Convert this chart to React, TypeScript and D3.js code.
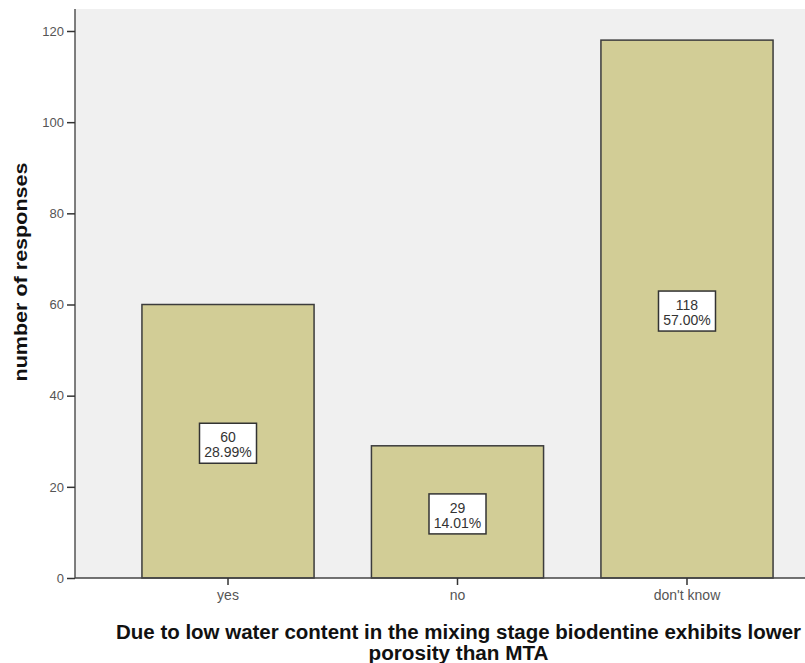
import { useEffect, useRef } from "react";
import * as d3 from "d3";

const categories = ["yes", "no", "don't know"];
const counts = [60, 29, 118];
const percents = ["28.99%", "14.01%", "57.00%"];
const yTicks = [0, 20, 40, 60, 80, 100, 120];
const yTitle = "number of responses";
const xTitle = [
  "Due to low water content in the mixing stage biodentine exhibits lower",
  "porosity than MTA",
];

const W = 805;
const H = 663;
const FONT = "Arial, 'Liberation Sans', sans-serif";

function draw(svgEl: SVGSVGElement) {
  const svg = d3.select(svgEl);
  svg.selectAll("*").remove();

  const left = 75;
  const right = 840;
  const top = 9;
  const bottom = 578;

  const x = d3
    .scaleBand()
    .domain(categories)
    .range([left, right])
    .paddingInner(0.25)
    .paddingOuter(0.2917);

  const y = d3.scaleLinear().domain([0, 120]).range([bottom, 31]);

  // plot background
  svg
    .append("rect")
    .attr("x", left)
    .attr("y", top)
    .attr("width", W - left)
    .attr("height", bottom - top)
    .attr("fill", "#f0f0f0");

  // bars
  svg
    .selectAll("rect.bar")
    .data(counts)
    .join("rect")
    .attr("class", "bar")
    .attr("x", (d, i) => x(categories[i]))
    .attr("y", (d) => y(d))
    .attr("width", x.bandwidth())
    .attr("height", (d) => bottom - y(d))
    .attr("fill", "#d2cd96")
    .attr("stroke", "#3c3c3c")
    .attr("stroke-width", 1.5);

  // labels in boxes
  const lab = svg
    .selectAll("g.lab")
    .data(counts)
    .join("g")
    .attr("class", "lab")
    .attr(
      "transform",
      (d, i) =>
        `translate(${x(categories[i]) + x.bandwidth() / 2},${(y(d) + bottom) / 2 + 2})`,
    );

  lab
    .append("rect")
    .attr("x", -28.5)
    .attr("y", -20)
    .attr("width", 57)
    .attr("height", 40)
    .attr("fill", "#fff")
    .attr("stroke", "#333")
    .attr("stroke-width", 1.5);

  lab
    .append("text")
    .attr("text-anchor", "middle")
    .attr("font-family", FONT)
    .attr("font-size", 14)
    .attr("fill", "#333")
    .selectAll("tspan")
    .data((d, i) => [String(d), percents[i]])
    .join("tspan")
    .attr("x", 0)
    .attr("y", (d, i) => (i === 0 ? -1 : 14))
    .text((d) => d);

  // y axis
  const yAxis = svg
    .append("g")
    .attr("transform", `translate(${left},0)`)
    .call(d3.axisLeft(y).tickValues(yTicks).tickSize(8).tickPadding(3));
  yAxis.select(".domain").attr("d", `M0,${top}V${bottom}`).attr("stroke", "#555").attr("stroke-width", 1.5);
  yAxis.selectAll(".tick line").attr("stroke", "#333").attr("stroke-width", 1.5);
  yAxis
    .selectAll(".tick text")
    .attr("font-family", FONT)
    .attr("font-size", 13)
    .attr("fill", "#555");

  // x axis
  const xAxis = svg
    .append("g")
    .attr("transform", `translate(0,${bottom})`)
    .call(d3.axisBottom(x).tickSize(7).tickPadding(5));
  xAxis.select(".domain").attr("d", `M${left},0H${W}`).attr("stroke", "#444").attr("stroke-width", 1.5);
  xAxis.selectAll(".tick line").attr("stroke", "#333").attr("stroke-width", 1.5);
  xAxis
    .selectAll(".tick text")
    .attr("font-family", FONT)
    .attr("font-size", 14)
    .attr("fill", "#555");

  // titles
  svg
    .append("text")
    .attr("transform", `translate(27,272) rotate(-90)`)
    .attr("text-anchor", "middle")
    .attr("font-family", FONT)
    .attr("font-weight", "bold")
    .attr("font-size", 19)
    .attr("fill", "#111")
    .attr("textLength", 219)
    .attr("lengthAdjust", "spacingAndGlyphs")
    .text(yTitle);

  const xt = svg
    .append("g")
    .attr("font-family", FONT)
    .attr("font-weight", "bold")
    .attr("font-size", 20)
    .attr("fill", "#111")
    .attr("text-anchor", "middle");
  xt.selectAll("text")
    .data(xTitle)
    .join("text")
    .attr("x", (left + right) / 2 + 1)
    .attr("y", (d, i) => 639 + i * 21)
    .attr("textLength", (d, i) => (i === 0 ? 685 : 180))
    .attr("lengthAdjust", "spacingAndGlyphs")
    .text((d) => d);
}

export default function App() {
  const ref = useRef<SVGSVGElement>(null);
  useEffect(() => {
    if (ref.current) draw(ref.current);
  });
  return (
    <svg
      ref={ref}
      width={W}
      height={H}
      style={{ position: "absolute", left: 0, top: 0, background: "#fff" }}
    />
  );
}
